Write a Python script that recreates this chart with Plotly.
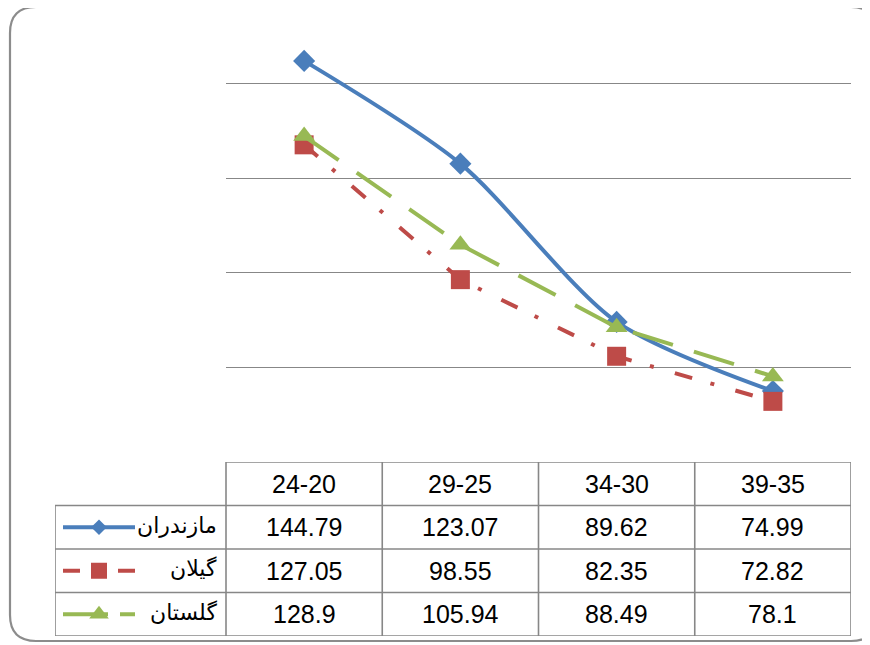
import plotly.graph_objects as go

age_groups = ["24-20", "29-25", "34-30", "39-35"]
mazandaran = [144.79, 123.07, 89.62, 74.99]
gilan = [127.05, 98.55, 82.35, 72.82]
golestan = [128.9, 105.94, 88.49, 78.1]
province_names = ["مازندران", "گیلان", "گلستان"]

W, H = 870, 645
OFF = 8  # page body margin of the exported html
GRID = "#878787"
FONT = "Liberation Sans, Arial, DejaVu Sans"

series = [
    dict(name=province_names[0], y=mazandaran, color="#4A7EBB", dash="solid",
         symbol="diamond", size=17, shape="spline", leg_dash="solid", leg_size=12),
    dict(name=province_names[1], y=gilan, color="#BE4B48", dash="18px,19px,4px,22px",
         symbol="square", size=19, shape="linear", leg_dash="17px,38px", leg_size=16),
    dict(name=province_names[2], y=golestan, color="#98B954", dash="42px,22px",
         symbol="triangle-up", size=19, shape="linear", leg_dash="45px,12px", leg_size=17),
]


def px_x(x):
    return (x - OFF) / W


def px_y(y):
    return 1 - (y - OFF) / H


# table geometry: value columns line up with the plot categories
col_w = (851 - 226) / 4
leg_left = -0.5 - (226 - 55) / col_w


def leg_x(offset):
    return leg_left + offset / col_w


fig = go.Figure()

for s in series:
    fig.add_trace(go.Scatter(
        x=age_groups, y=s["y"], mode="lines+markers", name=s["name"],
        line=dict(color=s["color"], width=4, dash=s["dash"], shape=s["shape"], smoothing=0.8),
        marker=dict(symbol=s["symbol"], size=s["size"], color=s["color"],
                    line=dict(width=0)),
        showlegend=False, hoverinfo="skip",
    ))

# legend keys inside the data table
for r, s in enumerate(series, start=1):
    fig.add_trace(go.Scatter(
        x=[leg_x(8), leg_x(80)], y=[r + 0.5, r + 0.5], mode="lines",
        line=dict(color=s["color"], width=4, dash=s["leg_dash"]),
        xaxis="x2", yaxis="y2", showlegend=False, hoverinfo="skip",
    ))
    fig.add_trace(go.Scatter(
        x=[leg_x(44)], y=[r + 0.5], mode="markers",
        marker=dict(symbol=s["symbol"], size=s["leg_size"], color=s["color"]),
        xaxis="x2", yaxis="y2", showlegend=False, hoverinfo="skip",
    ))

shapes = []
# chart area border (rounded)
x0, y0, x1, y1 = px_x(10), px_y(7), px_x(877), px_y(641)
rx, ry = 26 / W, 26 / H
shapes.append(dict(
    type="path", xref="paper", yref="paper",
    path=(f"M {x0 + rx},{y0} L {x1 - rx},{y0} Q {x1},{y0} {x1},{y0 - ry} "
          f"L {x1},{y1 + ry} Q {x1},{y1} {x1 - rx},{y1} L {x0 + rx},{y1} "
          f"Q {x0},{y1} {x0},{y1 + ry} L {x0},{y0 - ry} Q {x0},{y0} {x0 + rx},{y0} Z"),
    line=dict(color="#8C8C8C", width=2.2), layer="below",
))

# table grid
n_rows = len(series) + 1
for r in range(n_rows + 1):
    shapes.append(dict(type="line", xref="x2", yref="y2",
                       x0=-0.5 if r == 0 else leg_left, x1=len(age_groups) - 0.5,
                       y0=r, y1=r, line=dict(color=GRID, width=1.6)))
shapes.append(dict(type="line", xref="x2", yref="y2", x0=leg_left, x1=leg_left,
                   y0=1, y1=n_rows, line=dict(color=GRID, width=1.6)))
for c in range(len(age_groups) + 1):
    shapes.append(dict(type="line", xref="x2", yref="y2", x0=c - 0.5, x1=c - 0.5,
                       y0=0, y1=n_rows, line=dict(color=GRID, width=1.6)))

annotations = []
for c, label in enumerate(age_groups):
    annotations.append(dict(x=c, y=0.5, xref="x2", yref="y2", text=label,
                            showarrow=False, font=dict(size=25, color="black", family=FONT)))
for r, s in enumerate(series, start=1):
    annotations.append(dict(x=leg_x(164), y=r + 0.45, xref="x2", yref="y2", text=s["name"],
                            xanchor="right", showarrow=False,
                            font=dict(size=22, color="black", family=FONT)))
    for c, v in enumerate(s["y"]):
        annotations.append(dict(x=c, y=r + 0.5, xref="x2", yref="y2", text=f"{v:g}",
                                showarrow=False, font=dict(size=25, color="black", family=FONT)))

fig.update_layout(
    width=W, height=H,
    margin=dict(l=0, r=0, t=0, b=0),
    paper_bgcolor="white", plot_bgcolor="white",
    xaxis=dict(domain=[px_x(226), px_x(851)], type="category", range=[-0.5, 3.5],
               showgrid=False, showticklabels=False, zeroline=False, showline=False,
               fixedrange=True),
    yaxis=dict(domain=[px_y(462), px_y(20)], range=[60, 80 + (367 - 20) / 4.725],
               tickvals=[80, 100, 120, 140], showticklabels=False, showgrid=True,
               gridcolor=GRID, gridwidth=1.3, zeroline=False, showline=False,
               fixedrange=True),
    xaxis2=dict(domain=[px_x(55), px_x(851)], range=[leg_left, 3.5], visible=False,
                anchor="y2", fixedrange=True),
    yaxis2=dict(domain=[px_y(636), px_y(462)], range=[n_rows, 0], visible=False,
                anchor="x2", fixedrange=True),
    shapes=shapes,
    annotations=annotations,
)

fig.write_html("out.html")
